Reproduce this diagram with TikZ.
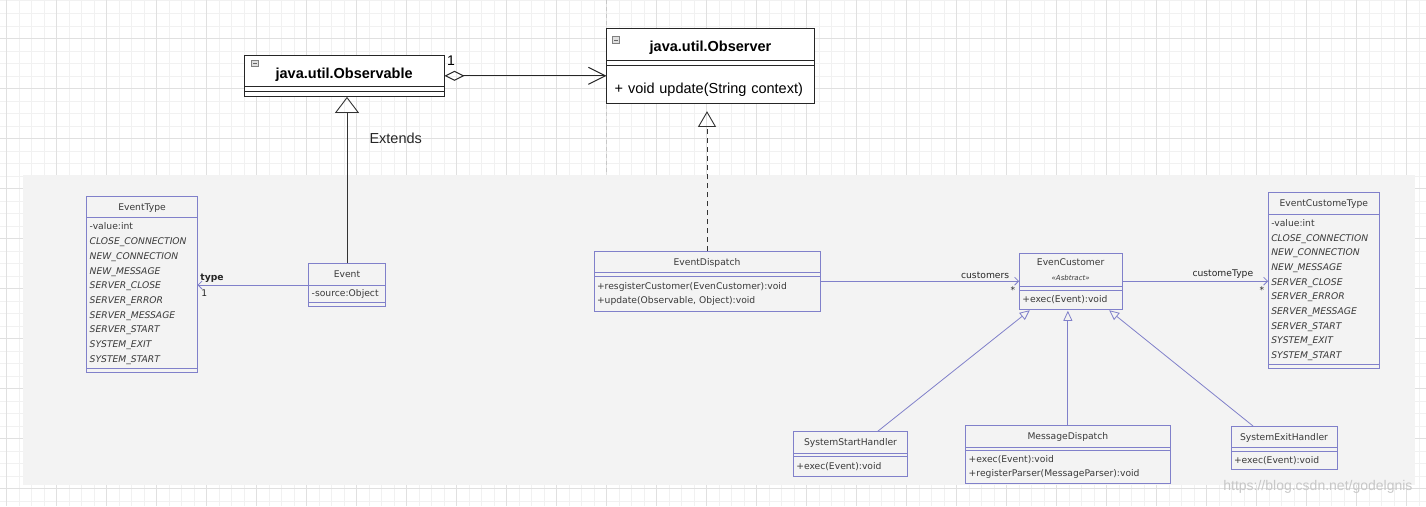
\documentclass[tikz,border=0pt]{standalone}
\usepackage{fontspec}
\setmainfont{Liberation Sans}
\newfontfamily\umlfont{DejaVu Sans}
\usetikzlibrary{arrows.meta,positioning,fit}

\definecolor{panel}{RGB}{243,243,243}
\definecolor{umlblue}{RGB}{128,128,202}
\definecolor{umltext}{RGB}{58,58,58}
\definecolor{gridmin}{RGB}{241,241,241}
\definecolor{gridmaj}{RGB}{224,224,224}

% enum constants, shared by both type classes
\newcommand{\evconsts}{\strut -value:int\\ \textit{CLOSE\_CONNECTION}\\ \textit{NEW\_CONNECTION}\\
  \textit{NEW\_MESSAGE}\\ \textit{SERVER\_CLOSE}\\ \textit{SERVER\_ERROR}\\ \textit{SERVER\_MESSAGE}\\
  \textit{SERVER\_START}\\ \textit{SYSTEM\_EXIT}\\ \textit{SYSTEM\_START}\strut}

\tikzset{
  box/.style={draw=umlblue, line width=0.8pt, fill=panel, text=umltext, outer sep=0pt,
    font=\umlfont\fontsize{9.2}{14.7}\selectfont, inner xsep=3pt, inner ysep=0pt},
  hd/.style={box, minimum width=#1, minimum height=21.7pt, text height=8pt, text depth=1.5pt,
    anchor=north west},
  cm/.style={box, text width=#1, align=left},
  ep/.style={box, minimum width=#1, minimum height=3.4pt, inner sep=0pt},
  jbox/.style={draw=black!85, line width=1pt, fill=white, outer sep=0pt,
    font=\fontsize{14.5}{17}\selectfont, inner xsep=8pt, inner ysep=0pt},
  jhd/.style={jbox, minimum width=#1, minimum height=31.7pt, text height=16pt, text depth=1.3pt,
    anchor=north west, font=\fontsize{14.5}{17}\selectfont\bfseries},
  jcm/.style={jbox, text width=#1, align=left},
  jep/.style={jbox, minimum width=#1, minimum height=5pt, inner sep=0pt},
  lbl/.style={font=\umlfont\fontsize{9.2}{11}\selectfont, text=black!85, inner sep=1.5pt},
  assoc/.style={draw=umlblue, line width=0.8pt, -{Straight Barb[length=4pt,width=8pt]}},
  gen/.style={draw=umlblue, line width=0.8pt, -{Triangle[open,length=10pt,width=9pt]}, shorten >=1.5pt},
  ext/.style={draw=black!80, line width=0.9pt, -{Triangle[open,length=16pt,width=24pt]}},
  real/.style={draw=black!80, line width=0.9pt, dash pattern=on 5pt off 4pt,
    -{Triangle[open,length=15.7pt,width=18pt]}, shorten >=7.7pt},
  agg/.style={draw=black!85, line width=1pt,
    {Diamond[open,length=20pt,width=10pt]}-{Straight Barb[length=17pt,width=17pt]}},
  icon/.style={draw=black!50, fill=black!12, line width=0.6pt},
}

\begin{document}
\begin{tikzpicture}[x=1pt,y=-1pt]
  \useasboundingbox (0,0) rectangle (1426,506);
  % editor grid
  \foreach \gx in {6.7,19.2,...,1426} \draw[gridmin, line width=0.6pt] (\gx,0) -- (\gx,506);
  \foreach \gy in {0.8,13.3,...,506} \draw[gridmin, line width=0.6pt] (0,\gy) -- (1426,\gy);
  \foreach \gx in {6.7,56.7,...,1426} \draw[gridmaj, line width=0.7pt] (\gx,0) -- (\gx,506);
  \foreach \gy in {38.3,88.3,...,506} \draw[gridmaj, line width=0.7pt] (0,\gy) -- (1426,\gy);
  \draw[black!22, dash pattern=on 4pt off 3pt] (606.5,0) -- (606.5,175);
  \fill[panel] (22.7,175) rectangle (1415,485);

  % java.util classes
  \node[jhd=200.3pt] (obsable) at (244,55) {java.util.Observable};
  \node[jep=200.3pt, below=0pt of obsable] (obsable-a) {};
  \node[jep=200.3pt, below=0pt of obsable-a] (obsable-o) {};
  \node[fit=(obsable)(obsable-o), inner sep=0pt] (obsable-box) {};
  \node[jhd=207.6pt] (obsver) at (606.7,28.3) {java.util.Observer};
  \node[jep=207.6pt, below=0pt of obsver] (obsver-a) {};
  \node[jcm=191.6pt, below=0pt of obsver-a] (obsver-o) {\rule[-9.8pt]{0pt}{38.3pt}+ void update(String context)};
  \node[fit=(obsver)(obsver-o), inner sep=0pt] (obsver-box) {};
  \draw[icon] ([shift={(7.7,5)}]obsable.north west) rectangle ++(6.6,6.6);
  \draw[black!60, line width=0.8pt] ([shift={(9.2,8.3)}]obsable.north west) -- ++(3.6,0);
  \draw[icon] ([shift={(6,8.4)}]obsver.north west) rectangle ++(6.6,6.6);
  \draw[black!60, line width=0.8pt] ([shift={(7.5,11.7)}]obsver.north west) -- ++(3.6,0);

  % event classes
  \node[hd=110.6pt] (evtype) at (86.7,196) {EventType};
  \node[cm=104.6pt, minimum height=151pt, below=0pt of evtype] (evtype-a) {\evconsts};
  \node[ep=110.6pt, below=0pt of evtype-a] (evtype-o) {};
  \node[fit=(evtype)(evtype-o), inner sep=0pt] (evtype-box) {};

  \node[hd=76.6pt] (event) at (308.7,263.3) {Event};
  \node[cm=70.6pt, minimum height=17.7pt, below=0pt of event] (event-a) {\strut -source:Object};
  \node[ep=76.6pt, below=0pt of event-a] (event-o) {};

  \node[hd=226pt] (edisp) at (594,251) {EventDispatch};
  \node[ep=226pt, below=0pt of edisp] (edisp-a) {};
  \node[cm=220pt, minimum height=35pt, below=0pt of edisp-a] (edisp-o)
    {\strut +resgisterCustomer(EvenCustomer):void\\ +update(Observable, Object):void\strut};
  \node[fit=(edisp)(edisp-o), inner sep=0pt] (edisp-box) {};

  \node[box, text width=96.7pt, align=center, minimum height=33.4pt, anchor=north west] (ecust) at (1019.3,253.3)
    {\strut EvenCustomer\\ {\fontsize{7}{9}\selectfont\itshape «Asbtract»}\strut};
  \node[ep=102.7pt, below=0pt of ecust] (ecust-a) {};
  \node[cm=96.7pt, minimum height=19pt, below=0pt of ecust-a] (ecust-o) {\strut +exec(Event):void};
  \node[fit=(ecust)(ecust-o), inner sep=0pt] (ecust-box) {};

  \node[hd=111pt] (ectype) at (1268.3,192.7) {EventCustomeType};
  \node[cm=105pt, minimum height=150.3pt, below=0pt of ectype] (ectype-a) {\evconsts};
  \node[ep=111pt, below=0pt of ectype-a] (ectype-o) {};
  \node[fit=(ectype)(ectype-o), inner sep=0pt] (ectype-box) {};

  \node[hd=114.4pt] (sshand) at (793.3,431.3) {SystemStartHandler};
  \node[ep=114.4pt, below=0pt of sshand] (sshand-a) {};
  \node[cm=108.4pt, minimum height=19.6pt, below=0pt of sshand-a] (sshand-o) {\strut +exec(Event):void};

  \node[hd=204.3pt] (mdisp) at (965.7,425.3) {MessageDispatch};
  \node[ep=204.3pt, below=0pt of mdisp] (mdisp-a) {};
  \node[cm=198.3pt, minimum height=32.6pt, below=0pt of mdisp-a] (mdisp-o)
    {\strut +exec(Event):void\\ +registerParser(MessageParser):void\strut};

  \node[hd=106pt] (sehand) at (1231,426) {SystemExitHandler};
  \node[ep=106pt, below=0pt of sehand] (sehand-a) {};
  \node[cm=100pt, minimum height=18pt, below=0pt of sehand-a] (sehand-o) {\strut +exec(Event):void};

  % relations
  \draw[agg] (obsable-box.east) -- (obsable-box.east -| obsver-box.west);
  \node[font=\fontsize{14}{16}\selectfont] (aggmult) at ([shift={(6.5,-15)}]obsable-box.east) {1};
  \draw[ext] (event.north) -- (event.north |- obsable-box.south);
  \node[font=\fontsize{14.5}{17}\selectfont, text=black!85, anchor=west] (extlbl) at (366,138) {Extends};
  \draw[real] (edisp.north) -- (edisp.north |- obsver-box.south);
  \draw[assoc] (event.south west) -- (event.south west -| evtype-box.east)
    node[pos=1, above right=1pt and 1pt, lbl, font=\umlfont\fontsize{9.2}{11}\selectfont\bfseries] (typelbl) {type}
    node[pos=1, below right=3pt and 2pt, lbl] (typemult) {1};
  \draw[assoc] (ecust-box.west -| edisp-box.east) -- (ecust-box.west)
    node[pos=1, above left=1pt and 8pt, lbl] (custlbl) {customers}
    node[pos=1, below left=4pt and 2pt, lbl] (custmult) {*};
  \draw[assoc] (ecust-box.east) -- (ecust-box.east -| ectype-box.west)
    node[pos=1, above left=1pt and 13pt, lbl] (ctlbl) {customeType}
    node[pos=1, below left=4pt and 2pt, lbl] (ctmult) {*};
  \draw[gen] ([xshift=27.2pt]sshand.north) -- ([xshift=-39.7pt]ecust-box.south);
  \draw[gen] (mdisp.north) -- (mdisp.north |- ecust-box.south);
  \draw[gen] ([xshift=-31pt]sehand.north) -- ([xshift=37.3pt]ecust-box.south);

  \node[font=\fontsize{14}{16}\selectfont, text=black!22, anchor=east] (wmark) at (1416,487)
    {https://blog.csdn.net/godelgnis};
\end{tikzpicture}
\end{document}
